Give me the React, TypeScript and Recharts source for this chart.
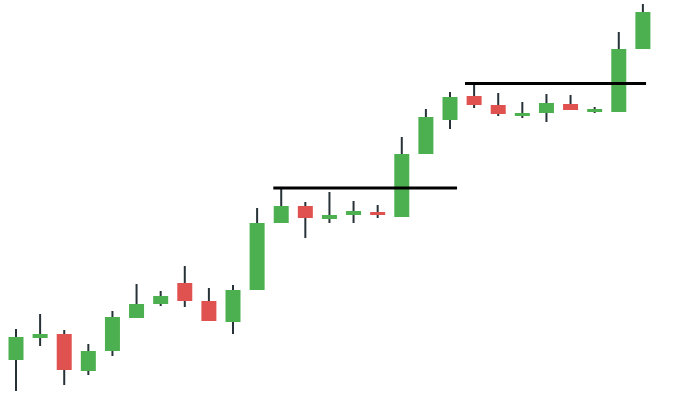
import React from 'react';
import { ComposedChart, XAxis, YAxis, Bar, ReferenceLine } from 'recharts';

const days = ['1', '2', '3', '4', '5', '6', '7', '8', '9', '10', '11', '12', '13', '14', '15', '16', '17', '18', '19', '20', '21', '22', '23', '24', '25', '26', '27'];
const opens = [40, 62, 66, 29, 49, 82, 96, 117, 99, 78, 110, 177, 194, 181, 185, 188, 183, 246, 280, 304, 295, 284, 287, 296, 288, 288, 351];
const highs = [71, 86, 70, 56, 89, 116, 109, 134, 112, 115, 192, 213, 198, 208, 199, 195, 263, 291, 308, 317, 307, 298, 306, 305, 293, 368, 396];
const lows = [9, 54, 15, 25, 44, 82, 94, 93, 79, 66, 110, 177, 162, 177, 177, 182, 183, 246, 271, 292, 284, 282, 278, 290, 287, 288, 351];
const closes = [63, 66, 30, 49, 83, 96, 104, 99, 79, 110, 177, 194, 182, 185, 189, 185, 246, 283, 303, 295, 286, 287, 297, 290, 291, 351, 388];

// resistance levels: price, from index, to index
const levelPrices = [212, 316.5];
const levelStarts = [10.69, 18.64];
const levelEnds = [18.31, 26.15];

const data = days.map((day, i) => ({
    day,
    idx: i,
    open: opens[i],
    high: highs[i],
    low: lows[i],
    close: closes[i],
}));

const UP = '#4caf50';
const DOWN = '#e0524f';
const WICK = '#263238';

const Candle = (props: any) => {
    const { x, y, width, height, payload } = props;
    if (!payload) return null;
    const top = Math.min(y, y + height);
    const h = Math.abs(height);
    const { open, close, high, low } = payload;
    const ratio = high === low ? 0 : h / (high - low);
    const yOf = (v: number) => top + (high - v) * ratio;
    const up = close >= open;
    const bodyTop = yOf(Math.max(open, close));
    const bodyBottom = yOf(Math.min(open, close));
    const cx = x + width / 2;
    return (
        <g>
            <line x1={cx} x2={cx} y1={yOf(high)} y2={yOf(low)} stroke={WICK} strokeWidth={2} />
            <rect x={x} y={bodyTop} width={width} height={Math.max(bodyBottom - bodyTop, 1)} fill={up ? UP : DOWN} />
        </g>
    );
};

const App: React.FC = () => {
    return (
        <div style={{ position: 'absolute', left: 0, top: 0, width: 697, height: 420, background: '#fff' }}>
            <ComposedChart width={697} height={400} data={data} margin={{ top: 0, right: 42.5, left: 3.5, bottom: 0 }}>
                <XAxis dataKey="day" hide />
                <XAxis xAxisId="idx" type="number" dataKey="idx" domain={[-0.5, 26.5]} allowDataOverflow hide />
                <YAxis domain={[0, 400]} allowDataOverflow hide />
                <Bar dataKey={(d: any) => [d.low, d.high]} barSize={15} shape={Candle} isAnimationActive={false} />
                {levelPrices.map((p, i) => (
                    <ReferenceLine
                        key={i}
                        xAxisId="idx"
                        segment={[{ x: levelStarts[i], y: p }, { x: levelEnds[i], y: p }]}
                        stroke="#000"
                        strokeWidth={3}
                    />
                ))}
            </ComposedChart>
        </div>
    );
};

export default App;
